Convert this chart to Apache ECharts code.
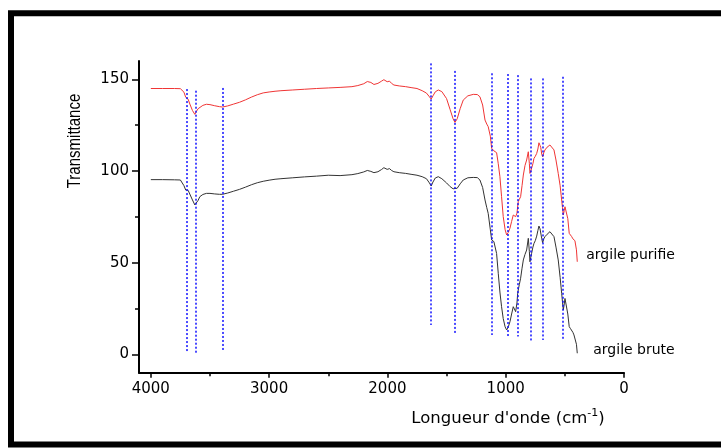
<!DOCTYPE html>
<html><head><meta charset="utf-8">
<script src="https://cdn.jsdelivr.net/npm/echarts@6/dist/echarts.min.js"></script>
<style>html,body{margin:0;padding:0;background:#fff}#c{width:721px;height:448px}</style>
</head><body><div id="c"></div>
<script>
// Wavenumber (cm-1) sample points
const wavenumbers = [4000,3900,3800,3750,3720,3705,3695,3685,3670,3648,3628,3615,3600,3586,3560,3530,3500,3460,3420,3394,3350,3300,3250,3200,3150,3100,3050,3000,2950,2900,2800,2700,2600,2500,2400,2300,2250,2200,2170,2156,2140,2114,2080,2050,2030,2015,2002,1990,1982,1965,1945,1900,1846,1800,1750,1706,1670,1645,1630,1615,1595,1570,1540,1500,1470,1445,1429,1410,1385,1359,1320,1274,1240,1218,1195,1175,1160,1148,1130,1119,1100,1077,1063,1049,1035,1021,1005,992,978,964,950,936,925,916,905,899,894,885,874,862,851,837,823,809,800,795,788,781,770,761,750,738,728,719,710,704,695,688,678,668,650,626,610,592,575,556,540,527,520,513,505,499,492,485,475,463,452,442,432,423,415,408,402,395];
// argile purifie (red)
const purifie = [145.0,145.0,145.0,144.9,143.0,140.2,139.5,139.2,136.5,133.0,130.9,132.5,134.0,135.0,135.8,136.4,136.2,135.6,135.1,134.9,135.5,136.5,137.5,138.8,140.3,141.6,142.6,143.1,143.5,143.8,144.2,144.6,145.0,145.3,145.6,146.0,146.6,147.6,148.8,149.8,148.3,147.2,147.8,149.0,149.8,149.0,148.7,149.2,149.0,147.8,146.9,146.4,146.0,145.5,145.0,143.8,142.5,140.5,139.2,141.0,143.2,144.2,143.3,139.5,133.5,128.5,126.5,128.5,134.0,138.7,141.0,141.8,141.7,140.5,136.0,127.8,125.6,124.2,119.0,112.4,111.0,110.0,104.0,96.9,86.0,75.1,68.0,65.1,66.5,68.8,72.5,76.0,77.0,75.1,77.0,77.8,83.3,84.5,86.0,92.0,97.8,103.0,106.0,110.5,104.0,98.7,100.0,100.5,104.0,106.9,108.0,109.6,112.0,115.4,114.0,112.9,109.0,107.8,110.0,111.5,113.0,114.2,113.5,111.5,106.0,98.7,92.0,84.2,80.0,76.0,78.5,80.5,81.5,81.5,74.0,66.0,65.0,64.2,63.0,62.4,62.0,61.5,57.0,50.5];
// argile brute (black)
const brute = [95.3,95.3,95.2,95.1,92.0,89.6,90.0,89.5,88.7,84.2,81.5,81.8,84.0,86.0,87.2,87.8,87.8,87.5,87.3,87.3,88.0,89.0,90.0,91.2,92.5,93.6,94.4,95.0,95.5,95.8,96.3,96.8,97.2,97.7,97.5,98.0,98.6,99.5,100.3,100.9,99.8,99.1,99.6,100.8,101.8,101.0,100.9,101.5,101.3,100.3,99.6,99.1,98.7,98.2,97.7,96.9,95.8,93.5,91.8,94.0,96.2,96.9,95.8,93.5,91.5,90.3,90.0,90.6,93.0,95.1,96.3,96.5,96.4,95.1,91.0,84.2,80.0,76.9,68.0,62.4,61.5,55.0,44.2,34.0,26.0,19.5,15.0,13.3,15.0,17.8,22.0,26.0,25.0,23.3,28.0,33.0,35.1,38.0,41.5,47.0,51.5,54.5,56.9,63.3,56.0,50.5,53.0,55.1,58.5,60.5,62.0,64.5,67.5,70.0,68.5,67.8,63.0,60.9,63.0,64.2,65.5,66.9,66.0,64.2,58.5,51.5,42.0,33.3,28.5,24.2,27.5,30.5,31.1,30.0,22.0,15.1,14.0,13.3,12.0,10.6,10.0,9.7,5.5,0.6];
// dotted vertical marker lines (band positions)
const peakWavenumbers = [3695,3617,3394,1632,1429,1114,985,896,792,685,518];
const peakTop = [144.7,143.8,145.3,158.7,154.6,153.3,152.9,152.3,150.5,150.5,151.4];
const peakBottom = [1.3,0.8,1.9,16.0,11.7,10.6,9.7,9.7,7.5,7.9,8.2];
// ticks
const xTickLabels = [0,1000,2000,3000,4000];
const xMinorTicks = [500,1500,2500,3500];
const yTickLabels = [0,50,100,150];
const yMinorTicks = [25,75,125];
const seriesNames = ['argile purifie','argile brute'];

const chart = echarts.init(document.getElementById('c'), null, {renderer:'canvas'});
const pairs = ys => wavenumbers.map((w,i)=>[w, ys[i]]);
const last = wavenumbers.length - 1;
const tickStyle = {color:'#000', width:1.5};
const labelFont = {color:'#000', fontFamily:'DejaVu Sans', fontSize:14};
const endPoint = (ys, name, dist, dy) => ({
  symbol:'circle', symbolSize:0, silent:true,
  data:[{coord:[wavenumbers[last], ys[last]], value:name}],
  label:{show:true, position:'right', distance:dist, offset:[0,dy], formatter:name, ...labelFont},
  itemStyle:{color:'rgba(0,0,0,0)'}
});
const option = {
  animation:false,
  backgroundColor:'#fff',
  grid:{left:139, right:97, top:61, bottom:75.3},
  xAxis:[
    {type:'value', min:0, max:4100, inverse:true,
     axisLine:{onZero:false, lineStyle:{color:'#000', width:2}},
     axisTick:{customValues:xTickLabels, length:5, lineStyle:tickStyle},
     axisLabel:{customValues:xTickLabels, formatter:v=>String(v), color:'#000', fontFamily:'DejaVu Sans', fontSize:15, margin:9},
     splitLine:{show:false}},
    {type:'value', min:0, max:4100, inverse:true, position:'bottom',
     axisLine:{show:false, onZero:false},
     axisTick:{customValues:xMinorTicks, length:3.5, lineStyle:tickStyle},
     axisLabel:{show:false}, splitLine:{show:false}}
  ],
  yAxis:[
    {type:'value', min:-10, max:160,
     axisLine:{show:true, onZero:false, lineStyle:{color:'#000', width:2}},
     axisTick:{show:true, customValues:yTickLabels, length:7, lineStyle:tickStyle},
     axisLabel:{customValues:yTickLabels, formatter:v=>String(v), color:'#000', fontFamily:'DejaVu Sans', fontSize:15, margin:10},
     splitLine:{show:false}},
    {type:'value', min:-10, max:160, position:'left',
     axisLine:{show:false, onZero:false},
     axisTick:{show:true, customValues:yMinorTicks, length:4, lineStyle:tickStyle},
     axisLabel:{show:false}, splitLine:{show:false}}
  ],
  series:[
    {name:seriesNames[0], type:'line', data:pairs(purifie), showSymbol:false, symbol:'none',
     lineStyle:{color:'#f03535', width:1}, itemStyle:{color:'#f03535'},
     markPoint:endPoint(purifie, seriesNames[0], 9, -6)},
    {name:seriesNames[1], type:'line', data:pairs(brute), showSymbol:false, symbol:'none',
     lineStyle:{color:'#333', width:1}, itemStyle:{color:'#333'},
     markPoint:endPoint(brute, seriesNames[1], 16, -3)},
    {type:'lines', coordinateSystem:'cartesian2d', z:5,
     lineStyle:{color:'#1010ff', width:1.5, type:[2,2], opacity:1},
     data:peakWavenumbers.map((w,i)=>({coords:[[w,peakTop[i]],[w,peakBottom[i]]]}))}
  ],
  graphic:[
    {type:'rect', shape:{x:11, y:13.3, width:800, height:431.2}, style:{fill:'none', stroke:'#000', lineWidth:6}, silent:true},
    {type:'text', x:75, y:141, rotation:Math.PI/2, scaleY:1.2,
     style:{text:'Transmittance', fill:'#000', font:'15px "Liberation Sans", Arial, sans-serif', textAlign:'center', textVerticalAlign:'middle'}},
    {type:'text', x:508, y:419,
     style:{text:"Longueur d'onde (cm{sup|-1})", fill:'#000', fontFamily:'DejaVu Sans', fontSize:16.5, lineHeight:22,
       textAlign:'center', textVerticalAlign:'middle',
       rich:{sup:{fontFamily:'DejaVu Sans', fontSize:11, lineHeight:11, verticalAlign:'top', fill:'#000'}}}}
  ]
};
chart.setOption(option);
</script></body></html>
